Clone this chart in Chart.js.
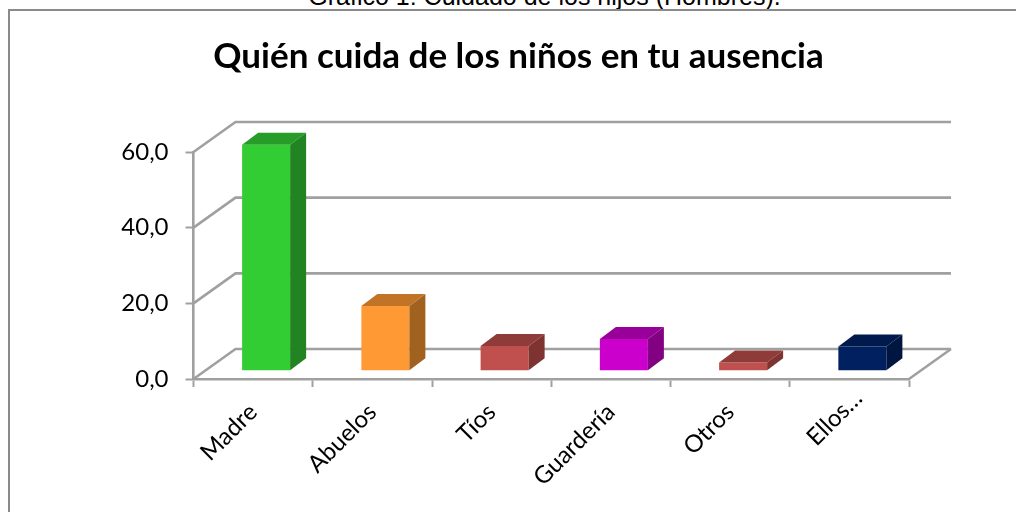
<!DOCTYPE html>
<html lang="es">
<head>
<meta charset="utf-8">
<style>
html,body{margin:0;padding:0;background:#fff;width:1016px;height:512px;overflow:hidden}
#wrap{position:relative;width:1016px;height:512px}
#frame{position:absolute;left:8px;top:9px;width:1020px;height:520px;border:2px solid #8a8a8a;box-sizing:border-box}
#clip{position:absolute;left:0;top:0;width:1016px;height:10px;overflow:hidden}
#cap{position:absolute;left:0;top:-16px;width:1089px;text-align:center;font:25px "Liberation Sans",Arial,sans-serif;line-height:24px;color:#000;white-space:nowrap}
canvas{position:absolute;left:0;top:0}
</style>
<script src="https://cdn.jsdelivr.net/npm/chart.js@4"></script>
</head>
<body>
<div id="wrap">
<div id="clip"><div id="cap">Gráfico 1: Cuidado de los hijos (Hombres).</div></div>
<div id="frame"></div>
<canvas id="c" width="1016" height="512"></canvas>
</div>
<script>
const categories = ["Madre", "Abuelos", "Tíos", "Guardería", "Otros", "Ellos…"];
const values = [59.7, 17.1, 6.5, 8.4, 2.2, 6.4];
const yTicks = [0, 20, 40, 60];
const frontColors = ["#32CD32", "#FF9933", "#C0504D", "#CC00CC", "#C0504D", "#002060"];
const topColors   = ["#289C28", "#C27426", "#8E3B39", "#990099", "#8E3B39", "#001A4E"];
const sideColors  = ["#228322", "#A2621F", "#7E3331", "#820082", "#7E3331", "#00153F"];

const GRAY = "#a0a0a0";
const wallDX = 42, wallDY = -30;
const barDX = 13, barDY = -8.3, faceDX = 16, faceDY = -12;

function poly(ctx, pts, fill) {
  ctx.beginPath();
  pts.forEach((p, i) => i ? ctx.lineTo(p[0], p[1]) : ctx.moveTo(p[0], p[1]));
  ctx.closePath();
  ctx.fillStyle = fill;
  ctx.fill();
}

const walls3d = {
  id: "walls3d",
  beforeDraw(chart) {
    const items = chart.scales.x.getLabelItems();
    const last = items[items.length - 1];
    if (last && !last.nudged) {
      last.options.translation = [last.options.translation[0] + 9, last.options.translation[1] - 14];
      last.nudged = true;
    }
  },
  beforeDatasetsDraw(chart) {
    const { ctx, scales: { x, y } } = chart;
    ctx.save();
    ctx.strokeStyle = GRAY;
    ctx.lineWidth = 2.6;
    ctx.lineJoin = "miter";
    yTicks.forEach(v => {
      const py = y.getPixelForValue(v);
      ctx.beginPath();
      ctx.moveTo(x.left, py);
      ctx.lineTo(x.left + wallDX, py + wallDY);
      ctx.lineTo(x.right + wallDX, py + wallDY);
      ctx.stroke();
    });
    const py0 = y.getPixelForValue(0);
    ctx.beginPath();
    ctx.moveTo(x.right, py0);
    ctx.lineTo(x.right + wallDX, py0 + wallDY);
    ctx.stroke();
    ctx.restore();
  },
  beforeDatasetDraw(chart) {
    chart.ctx.save();
    chart.ctx.translate(barDX, barDY);
  },
  afterDatasetDraw(chart, args) {
    const ctx = chart.ctx;
    args.meta.data.forEach((bar, i) => {
      const p = bar.getProps(["x", "y", "base", "width"], true);
      const l = p.x - p.width / 2, r = p.x + p.width / 2;
      poly(ctx, [[l, p.y], [r, p.y], [r + faceDX, p.y + faceDY], [l + faceDX, p.y + faceDY]], topColors[i]);
      poly(ctx, [[r, p.y], [r + faceDX, p.y + faceDY], [r + faceDX, p.base + faceDY], [r, p.base]], sideColors[i]);
    });
    ctx.restore();
  }
};

new Chart(document.getElementById("c"), {
  type: "bar",
  data: {
    labels: categories,
    datasets: [{
      data: values,
      backgroundColor: frontColors,
      borderWidth: 0,
      categoryPercentage: 1,
      barPercentage: 0.4027,
      clip: false
    }]
  },
  plugins: [walls3d],
  options: {
    responsive: false,
    animation: false,
    layout: { padding: { left: 21, right: 0, top: 0, bottom: 0 } },
    plugins: {
      legend: { display: false },
      tooltip: { enabled: false },
      title: {
        display: true,
        text: "Quién cuida de los niños en tu ausencia",
        color: "#000",
        font: { family: "Lato", size: 35, weight: "bold", lineHeight: 1.2 },
        padding: { top: 36, bottom: 74 }
      }
    },
    scales: {
      x: {
        offset: true,
        afterFit(s) { s.height = 133; },
        border: { color: GRAY, width: 2.6 },
        grid: { display: true, drawOnChartArea: false, drawTicks: true, tickLength: 8, tickColor: GRAY, tickWidth: 2 },
        ticks: { color: "#000", font: { family: "Lato", size: 24 }, minRotation: 45, maxRotation: 45, padding: 11, autoSkip: false }
      },
      y: {
        min: 0, max: 60,
        afterFit(s) { s.width = 172.5; },
        border: { color: GRAY, width: 2.6 },
        grid: { display: true, drawOnChartArea: false, drawTicks: true, tickLength: 8, tickColor: GRAY, tickWidth: 2 },
        afterBuildTicks(s) { s.ticks = yTicks.map(v => ({ value: v })); },
        ticks: {
          color: "#000",
          font: { family: "Lato", size: 24 },
          padding: 17,
          callback: v => v.toFixed(1).replace(".", ",")
        }
      },
      spacer: {
        type: "linear",
        position: "right",
        afterFit(s) { s.width = 107; },
        border: { display: false },
        grid: { display: false },
        ticks: { display: false }
      }
    }
  }
});
</script>
</body>
</html>
